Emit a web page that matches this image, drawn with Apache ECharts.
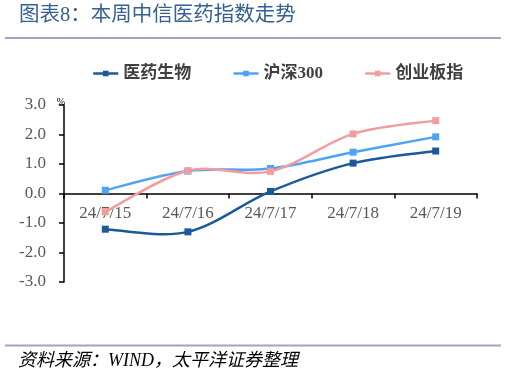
<!DOCTYPE html>
<html><head><meta charset="utf-8">
<script src="https://cdn.jsdelivr.net/npm/echarts@6/dist/echarts.min.js"></script>
<style>html,body{margin:0;padding:0;background:#fff}#c{width:507px;height:372px}</style>
</head><body><div id="c"></div>
<script>
const categories = ['24/7/15','24/7/16','24/7/17','24/7/18','24/7/19'];
const seriesNames = ['医药生物','沪深300','创业板指'];
const yiyao = [-1.21, -1.30, 0.07, 1.03, 1.44];
const hs300 = [0.11, 0.76, 0.85, 1.40, 1.92];
const cyb = [-0.62, 0.77, 0.75, 2.02, 2.47];
const yTicks = [-3, -2, -1, 0, 1, 2, 3];

const colors = ['#1a5a9a', '#4da3f4', '#f39c9e'];
const serif = '"Liberation Serif","Noto Sans CJK SC"';
const chart = echarts.init(document.getElementById('c'));
const vals = [yiyao, hs300, cyb];
const gridTop = 105, gridBottom = 90, H = 372;
const plotH = H - gridTop - gridBottom;
const yMin = yTicks[0], yMax = yTicks[yTicks.length-1];
const zeroOffset = plotH * (0 - yMin) / (yMax - yMin);
const tension = 1 / 6;

function curveSeries(i) {
  const data = vals[i].map((v, j) => [j, v]);
  return {
    name: seriesNames[i] + '_curve', type: 'custom', data: data, silent: true, z: 2,
    encode: {x: 0, y: 1},
    renderItem: (params, api) => {
      if (params.dataIndex !== 0) return null;
      const pts = data.map(d => api.coord(d));
      let p = 'M' + pts[0][0] + ',' + pts[0][1];
      for (let j = 0; j < pts.length - 1; j++) {
        const p0 = pts[Math.max(j - 1, 0)], p1 = pts[j], p2 = pts[j + 1], p3 = pts[Math.min(j + 2, pts.length - 1)];
        const c1 = [p1[0] + (p2[0] - p0[0]) * tension, p1[1] + (p2[1] - p0[1]) * tension];
        const c2 = [p2[0] - (p3[0] - p1[0]) * tension, p2[1] - (p3[1] - p1[1]) * tension];
        p += ' C' + c1[0] + ',' + c1[1] + ' ' + c2[0] + ',' + c2[1] + ' ' + p2[0] + ',' + p2[1];
      }
      return {type: 'path', shape: {pathData: p}, style: {stroke: colors[i], lineWidth: 2.5, fill: null}};
    }
  };
}
function markerSeries(i) {
  return {
    name: seriesNames[i], type: 'line', data: vals[i], smooth: false, z: 2,
    symbol: 'rect', symbolSize: 7, showSymbol: true,
    lineStyle: {width: 2.5, color: colors[i], opacity: 0},
    itemStyle: {color: colors[i]}
  };
}
const series = [];
for (let i = 0; i < seriesNames.length; i++) { series.push(curveSeries(i)); series.push(markerSeries(i)); }

chart.setOption({
  animation: false,
  title: {
    text: '图表8：本周中信医药指数走势',
    left: 19, top: 5, padding: 0,
    textStyle: {fontSize: 20.5, fontWeight: 'normal', color: '#35608f', fontFamily: serif}
  },
  legend: {
    left: 92, top: 65, padding: 0, itemWidth: 25, itemHeight: 7, itemGap: 41,
    lineStyle: {opacity: 1, width: 2.5},
    textStyle: {fontSize: 17, fontWeight: 'bold', color: '#404040', fontFamily: serif},
    data: seriesNames
  },
  grid: {left: 64, right: 30, top: gridTop, bottom: gridBottom},
  xAxis: {
    type: 'category', data: categories, boundaryGap: true,
    offset: -zeroOffset,
    axisLine: {onZero: false, lineStyle: {color: '#000', width: 1.5}},
    axisTick: {show: true, inside: false, length: 5, lineStyle: {color: '#000', width: 1.5}},
    axisLabel: {interval: 0, margin: 12, fontSize: 17, color: '#595959', fontFamily: serif}
  },
  yAxis: {
    type: 'value', min: yMin, max: yMax, interval: 1,
    name: '%', nameLocation: 'end', nameGap: -2,
    nameTextStyle: {fontSize: 10, color: '#000', align: 'right', fontFamily: serif, padding: [0, -1, 0, 0]},
    axisLine: {show: true, lineStyle: {color: '#000', width: 1.5}},
    axisTick: {show: true, length: 5, lineStyle: {color: '#000', width: 1.5}},
    splitLine: {show: false},
    axisLabel: {margin: 18, fontSize: 17, color: '#595959', fontFamily: serif,
      formatter: v => v.toFixed(1)}
  },
  series: series,
  graphic: [
    {type: 'line', shape: {x1: 5, y1: 38, x2: 501, y2: 38}, style: {stroke: '#a0a3c8', lineWidth: 2}},
    {type: 'line', shape: {x1: 5, y1: 345.5, x2: 501, y2: 345.5}, style: {stroke: '#a0a3c8', lineWidth: 2}},
    {type: 'text', left: 18, top: 352, style: {text: '资料来源：WIND，太平洋证券整理',
      font: 'italic 18px "Liberation Serif","Noto Sans CJK SC"', fill: '#000'}}
  ]
});
</script></body></html>
